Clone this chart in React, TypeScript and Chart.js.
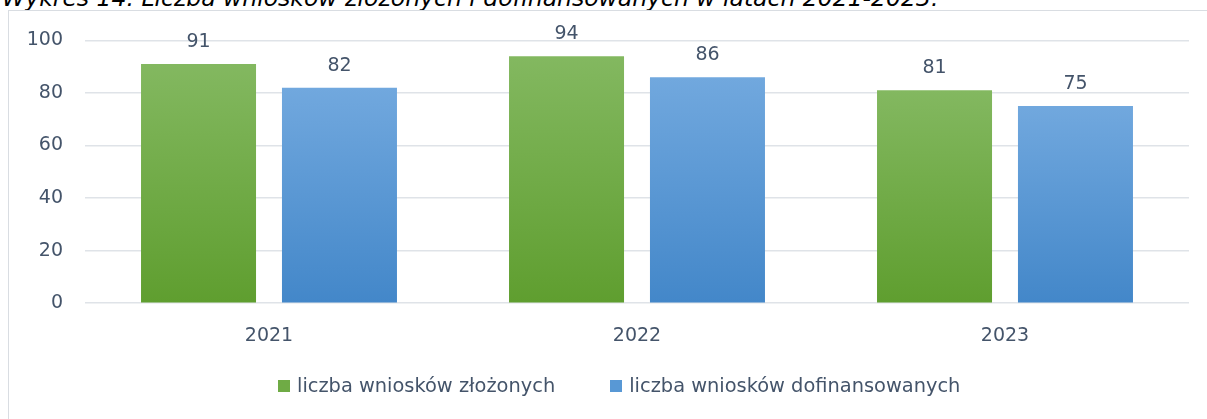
import React, { useEffect, useRef } from "react";
import { Chart, registerables } from "chart.js";

Chart.register(...registerables);

const categories = ["2021", "2022", "2023"];
const submitted = [91, 94, 81];
const funded = [82, 86, 75];
const seriesNames = ["liczba wniosków złożonych", "liczba wniosków dofinansowanych"];
const seriesLegendColors = ["#6fab45", "#5898d5"];
const yTicks = [0, 20, 40, 60, 80, 100];
const titleText = "Wykres 14. Liczba wniosków złożonych i dofinansowanych w latach 2021-2023.";

const FONT = '"DejaVu Sans", sans-serif';
const FS = 19;
const TEXT = "#44546a";

function gradientFill(top: string, bottom: string) {
  return (ctx: any) => {
    const chart = ctx.chart;
    const ys = chart.scales?.y;
    if (!chart.chartArea || !ys || ctx.type !== "data") return bottom;
    const v = ctx.parsed?.y ?? ctx.raw;
    const y0 = ys.getPixelForValue(v);
    const y1 = ys.getPixelForValue(0);
    if (!isFinite(y0) || !isFinite(y1) || y0 === y1) return bottom;
    const g = chart.ctx.createLinearGradient(0, y0, 0, y1);
    g.addColorStop(0, top);
    g.addColorStop(1, bottom);
    return g;
  };
}

const valueLabels = {
  id: "valueLabels",
  afterDatasetsDraw(chart: any) {
    const c = chart.ctx;
    c.save();
    c.font = `${FS}px ${FONT}`;
    c.fillStyle = TEXT;
    c.textAlign = "center";
    c.textBaseline = "alphabetic";
    chart.data.datasets.forEach((ds: any, i: number) => {
      const meta = chart.getDatasetMeta(i);
      meta.data.forEach((el: any, j: number) => {
        c.fillText(String(ds.data[j]), el.x, el.y - 17);
      });
    });
    c.restore();
  },
};

export default function App() {
  const ref = useRef<HTMLCanvasElement | null>(null);
  useEffect(() => {
    if (!ref.current) return;
    const chart = new Chart(ref.current, {
      type: "bar",
      data: {
        labels: categories,
        datasets: [
          {
            label: seriesNames[0],
            data: submitted,
            backgroundColor: gradientFill("#83b860", "#5f9e2f"),
            categoryPercentage: 0.766,
            barPercentage: 0.816,
          },
          {
            label: seriesNames[1],
            data: funded,
            backgroundColor: gradientFill("#71a8de", "#4387c9"),
            categoryPercentage: 0.766,
            barPercentage: 0.816,
          },
        ],
      },
      options: {
        animation: false,
        responsive: false,
        maintainAspectRatio: false,
        layout: { padding: { top: 18, right: 40, bottom: 51, left: 0 } },
        plugins: {
          tooltip: { enabled: false },
          title: { display: false },
          legend: { display: false },
        },
        scales: {
          x: {
            grid: { display: false, drawTicks: false },
            border: { display: false },
            ticks: { color: TEXT, font: { family: FONT, size: FS }, padding: 21 },
          },
          y: {
            min: 0,
            max: 100,
            afterBuildTicks: (s: any) => {
              s.ticks = yTicks.map((v) => ({ value: v }));
            },
            afterFit: (s: any) => {
              s.width = 76;
            },
            grid: { color: "#dfe3e8", lineWidth: 1.5, drawTicks: false },
            border: { display: false },
            ticks: { color: TEXT, font: { family: FONT, size: FS }, padding: 22 },
          },
        },
      },
      plugins: [valueLabels],
    });
    return () => chart.destroy();
  }, []);

  return (
    <div
      style={{
        position: "absolute",
        left: 0,
        top: 0,
        width: 1207,
        height: 419,
        overflow: "hidden",
        background: "#fff",
      }}
    >
      <div
        style={{
          position: "absolute",
          left: 2,
          top: -16,
          whiteSpace: "nowrap",
          fontFamily: '"DejaVu Sans", sans-serif',
          fontStyle: "italic",
          fontSize: 23.5,
          color: "#000",
        }}
      >
        {titleText}
      </div>
      <div
        style={{
          position: "absolute",
          left: 8,
          top: 10,
          width: 1240,
          height: 440,
          border: "1.5px solid #d9dde2",
          boxSizing: "border-box",
        }}
      />
      <canvas
        ref={ref}
        width={1220}
        height={412}
        style={{ position: "absolute", left: 9, top: 7, width: 1220, height: 412 }}
      />
      <div
        style={{
          position: "absolute",
          left: 278,
          top: 374,
          display: "flex",
          alignItems: "center",
          whiteSpace: "nowrap",
          fontFamily: FONT,
          fontSize: 19.4,
          color: TEXT,
          lineHeight: "24px",
        }}
      >
        {seriesNames.map((name, i) => (
          <div
            key={name}
            style={{ display: "flex", alignItems: "center", marginRight: i === 0 ? 55 : 0 }}
          >
            <span
              style={{
                display: "inline-block",
                width: 12,
                height: 12,
                background: seriesLegendColors[i],
                marginRight: 7,
              }}
            />
            <span>{name}</span>
          </div>
        ))}
      </div>
    </div>
  );
}
